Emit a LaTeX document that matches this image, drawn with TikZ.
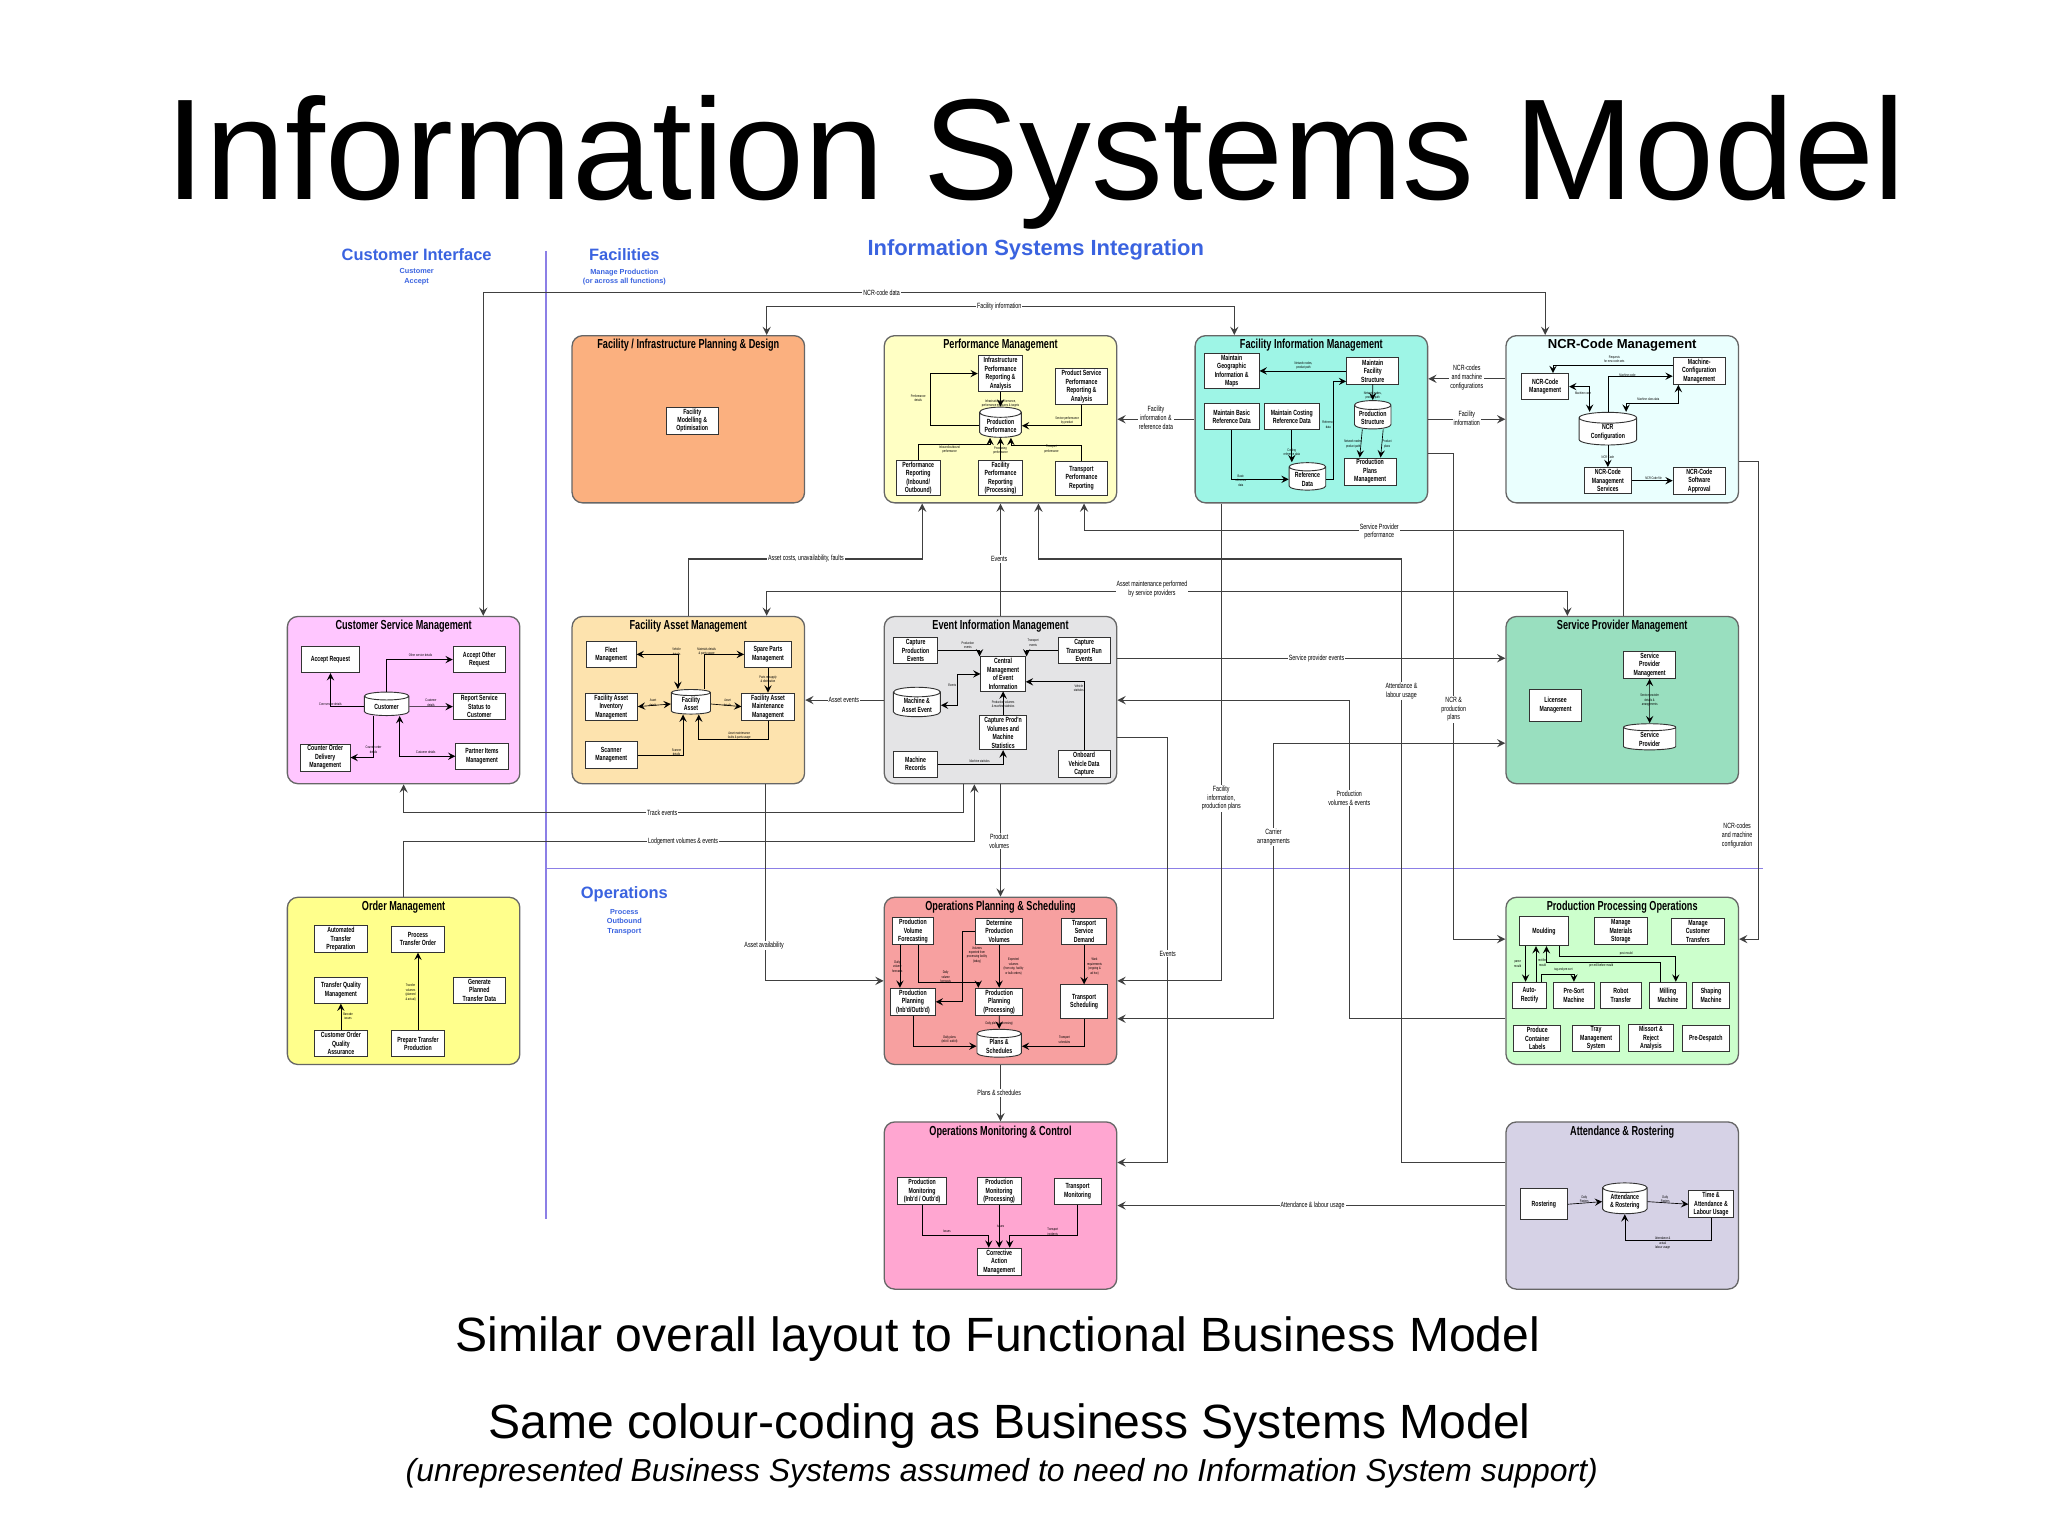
\documentclass[tikz,border=0pt]{standalone}
\usepackage{fontspec}
\setmainfont{Liberation Sans}
\newfontfamily\narrowfont{Liberation Sans}[FakeStretch=0.7]
\usepackage{tikz}
\usetikzlibrary{shapes.geometric, arrows}
\definecolor{cfpd}{HTML}{FBB07F}
\definecolor{cpm}{HTML}{FFFFC4}
\definecolor{cfim}{HTML}{9EF5E6}
\definecolor{cncr}{HTML}{EAFFFE}
\definecolor{ccsm}{HTML}{FFC6FF}
\definecolor{cfam}{HTML}{FDE3AE}
\definecolor{ceim}{HTML}{E4E4E6}
\definecolor{cspm}{HTML}{99DFBF}
\definecolor{com}{HTML}{FFFF8C}
\definecolor{cops}{HTML}{F7A0A0}
\definecolor{cppo}{HTML}{CCFFCC}
\definecolor{comc}{HTML}{FFA6D1}
\definecolor{car}{HTML}{D6D2E6}
\definecolor{hblue}{HTML}{3A63E0}
\definecolor{divider}{HTML}{8C7FE6}
\newcommand{\subfont}{\narrowfont\bfseries\fontsize{2.85}{3.25}\selectfont}
\newcommand{\tinyfont}{\narrowfont\fontsize{1.4}{1.7}\selectfont}
\tikzstyle{area} = [rectangle, rounded corners=4pt, minimum width=89pt, minimum height=64pt, draw=black!60, line width=0.5pt]
\tikzstyle{areatitle} = [font=\narrowfont\bfseries\fontsize{5}{6}\selectfont, anchor=north, inner sep=1.5pt]
\tikzstyle{sub} = [rectangle, draw=black!80, fill=white, line width=0.35pt, align=center, font=\subfont, inner sep=0.6pt, minimum height=10pt, minimum width=19pt]
\tikzstyle{store} = [cylinder, shape border rotate=90, aspect=0.3, draw=black!80, fill=white, line width=0.35pt, align=center, font=\subfont, inner sep=0.4pt, minimum width=16pt, minimum height=9pt]
\tikzstyle{arrow} = [line width=0.25pt, ->, >=stealth]
\tikzstyle{link} = [line width=0.4pt, ->, >=stealth, black!75]
\tikzstyle{tl} = [font=\tinyfont, align=center, inner sep=0.2pt]
\tikzstyle{cl} = [font=\narrowfont\fontsize{2.9}{3.4}\selectfont, align=center, fill=white, inner sep=0.4pt]
\tikzstyle{head} = [font=\bfseries\fontsize{6.3}{7}\selectfont, text=hblue]
\tikzstyle{headsub} = [font=\bfseries\fontsize{2.8}{3.6}\selectfont, text=hblue, align=center]
\begin{document}
\begin{tikzpicture}[x=0.5pt, y=-0.5pt]
        \useasboundingbox[fill=white] (0,0) rectangle (1568,1176);
        % headings
        \node (title) at (793,124) {\fontsize{55}{62}\selectfont Information Systems Model};
        \node (hci) [head] at (319,195) {Customer Interface};
        \node (hcis) [headsub] at (319,212) {Customer\\Accept};
        \node (hfac) [head] at (478,195) {Facilities};
        \node (hfacs) [headsub] at (478,212) {Manage Production\\(or across all functions)};
        \node (hisi) [head, font=\bfseries\fontsize{8.4}{9}\selectfont] at (793,191) {Information Systems Integration};
        \node (hops) [head] at (478,685) {Operations};
        \node (hopss) [headsub] at (478,706) {Process\\Outbound\\Transport};
        \draw [divider, line width=0.5pt] (418,192) -- (418,933);
        \draw [divider, line width=0.5pt] (418,665) -- (1350,665);
        \node (note1) at (764,1025) {\fontsize{18.4}{21}\selectfont Similar overall layout to Functional Business Model};
        \node (note2) at (773,1092) {\fontsize{18.4}{21}\selectfont Same colour-coding as Business Systems Model};
        \node (note3) at (767,1128) {\fontsize{12.2}{14}\selectfont\itshape (unrepresented Business Systems assumed to need no Information System support)};

        % areas
        \node (fpd) [area, fill=cfpd] at (527,321) {};
        \node (pm) [area, fill=cpm] at (766,321) {};
        \node (fim) [area, fill=cfim] at (1004,321) {};
        \node (ncr) [area, fill=cncr] at (1242,321) {};
        \node (csm) [area, fill=ccsm] at (309,536) {};
        \node (fam) [area, fill=cfam] at (527,536) {};
        \node (eim) [area, fill=ceim] at (766,536) {};
        \node (spm) [area, fill=cspm] at (1242,536) {};
        \node (om) [area, fill=com] at (309,751) {};
        \node (ops) [area, fill=cops] at (766,751) {};
        \node (ppo) [area, fill=cppo] at (1242,751) {};
        \node (omc) [area, fill=comc] at (766,923) {};
        \node (ar) [area, fill=car] at (1242,923) {};
        \node [areatitle] at (fpd.north) {Facility / Infrastructure Planning \& Design};
        \node [areatitle] at (pm.north) {Performance Management};
        \node [areatitle] at (fim.north) {Facility Information Management};
        \node [areatitle, font=\bfseries\fontsize{5}{6}\selectfont] at (ncr.north) {NCR-Code Management};
        \node [areatitle] at (csm.north) {Customer Service Management};
        \node [areatitle] at (fam.north) {Facility Asset Management};
        \node [areatitle] at (eim.north) {Event Information Management};
        \node [areatitle] at (spm.north) {Service Provider Management};
        \node [areatitle] at (om.north) {Order Management};
        \node [areatitle] at (ops.north) {Operations Planning \& Scheduling};
        \node [areatitle] at (ppo.north) {Production Processing Operations};
        \node [areatitle] at (omc.north) {Operations Monitoring \& Control};
        \node [areatitle] at (ar.north) {Attendance \& Rostering};

        % facility planning
        \node (fmo) [sub, minimum width=20pt] at (530,322) {Facility\\Modelling \&\\Optimisation};
        % performance management
        \node (ipr) [sub, minimum width=17pt] at (766,286) {Infrastructure\\Performance\\Reporting \&\\Analysis};
        \node (pspr) [sub, minimum width=20pt] at (828,296) {Product Service\\Performance\\Reporting \&\\Analysis};
        \node (pp) [store] at (766,326) {Production\\Performance};
        \node (pr) [sub, minimum width=17pt] at (703,366) {Performance\\Reporting\\(Inbound/\\Outbound)};
        \node (fpr) [sub, minimum width=17pt] at (766,366) {Facility\\Performance\\Reporting\\(Processing)};
        \node (tpr) [sub, minimum width=20pt, minimum height=13pt] at (828,366) {Transport\\Performance\\Reporting};
        \draw [arrow] (pr.north) -- ++(0,-12) -| ([xshift=-4pt]pp.south);
        \draw [arrow] (fpr.north) -- (pp.south);
        \draw [arrow] (tpr.north) -- ++(0,-12) -| ([xshift=4pt]pp.south);
        \draw [arrow] (ipr.south) -- (pp.north);
        \draw [arrow] (pp.west) -| (712,300) |- (ipr.west);
        \draw [arrow] (pspr.south) |- (pp.east);
        \node [tl] at (703,305) {Performance\\details};
        \node [tl] at (766,309) {Infrastructure performance,\\performance measures \& targets};
        \node [tl] at (817,322) {Service performance\\by product};
        \node [tl] at (727,344) {Inbound/outbound\\performance};
        \node [tl] at (766,345) {Processing\\performance};
        \node [tl] at (805,344) {Transport\\performance};
        % facility information management
        \node (mgi) [sub, minimum width=21pt] at (943,284) {Maintain\\Geographic\\Information \&\\Maps};
        \node (mfs) [sub, minimum width=20pt] at (1051,284) {Maintain\\Facility\\Structure};
        \node (mbr) [sub, minimum width=21pt] at (943,319) {Maintain Basic\\Reference Data};
        \node (mcr) [sub, minimum width=21pt] at (989,319) {Maintain Costing\\Reference Data};
        \node (ps) [store, minimum width=14pt] at (1051,320) {Production\\Structure};
        \node (rd) [store, minimum width=14pt] at (1001,367) {Reference\\Data};
        \node (ppm) [sub, minimum width=20pt] at (1049,361) {Production\\Plans\\Management};
        \draw [arrow] (mfs.west) -- (mgi.east);
        \draw [arrow] (mfs.south) -- (ps.north);
        \draw [arrow] ([xshift=-4pt]ps.south) -- ([xshift=-4pt]ppm.north);
        \draw [arrow] ([xshift=4pt]ps.south) -- ([xshift=4pt]ppm.north);
        \draw [arrow] (mbr.south) |- (rd.west);
        \draw [arrow] (mcr.south) -- (mcr.south |- rd.north);
        \draw [arrow] (rd.east) -| (1021,300) |- ([yshift=-4pt]mfs.west);
        \node [tl] at (998,280) {Network nodes,\\product path};
        \node [tl] at (1051,303) {Network nodes,\\product path};
        \node [tl] at (1036,340) {Network nodes,\\product path};
        \node [tl] at (1062,340) {Product\\plans};
        \node [tl] at (950,368) {Basic\\reference\\data};
        \node [tl] at (989,346) {Costing\\reference data};
        \node [tl] at (1017,325) {Reference\\data};
        % ncr-code management
        \node (ncm) [sub, minimum width=18pt] at (1183,296) {NCR-Code\\Management};
        \node (mcm) [sub, minimum width=20pt] at (1301,284) {Machine-\\Configuration\\Management};
        \node (nc) [store, minimum width=22pt, minimum height=11pt] at (1231,331) {NCR\\Configuration};
        \node (nms) [sub, minimum width=18pt] at (1231,368) {NCR-Code\\Management\\Services};
        \node (nsa) [sub, minimum width=20pt] at (1301,368) {NCR-Code\\Software\\Approval};
        \draw [arrow] ([yshift=2pt]mcm.west) -| ([xshift=3pt]ncm.north);
        \draw [arrow] (nc.north) |- ([yshift=-2pt]mcm.west);
        \draw [arrow, <->] ([xshift=-7pt]nc.north) |- (ncm.east);
        \draw [arrow, <->] ([xshift=7pt]nc.north) |- (1265,309) -| ([xshift=-8pt]mcm.south);
        \draw [arrow] (nc.south) -- (nms.north);
        \draw [arrow] (nms.east) -- (nsa.west);
        \node [tl] at (1236,275) {Requests\\for new code-sets};
        \node [tl] at (1246,287) {Machine-code};
        \node [tl] at (1212,301) {Machine-code};
        \node [tl] at (1262,306) {Machine class data};
        \node [tl] at (1231,350) {NCR Code};
        \node [tl] at (1266,366) {NCR Code file};
        % customer service management
        \node (creq) [sub, minimum width=22pt] at (253,505) {Accept Request};
        \node (aor) [sub, minimum width=20pt] at (367,505) {Accept Other\\Request};
        \node (cust) [store, minimum width=17pt] at (296,541) {Customer};
        \node (rss) [sub, minimum width=20pt] at (367,541) {Report Service\\Status to\\Customer};
        \node (codm) [sub, minimum width=19pt] at (249,580) {Counter Order\\Delivery\\Management};
        \node (pim) [sub, minimum width=20pt] at (369,579) {Partner Items\\Management};
        \draw [arrow] (cust.west) -| (creq.south);
        \draw [arrow] (cust.north) |- (aor.west);
        \draw [arrow] (cust.east) -- (rss.west);
        \draw [arrow] ([xshift=-5pt]cust.south) |- (codm.east);
        \draw [arrow, <->] (pim.west) -| ([xshift=5pt]cust.south);
        \node [tl] at (253,539) {Core service details};
        \node [tl] at (322,502) {Other service details};
        \node [tl] at (330,538) {Customer\\details};
        \node [tl] at (286,574) {Counter order\\details};
        \node [tl] at (326,576) {Customer details};
        % facility asset management
        \node (fleet) [sub, minimum width=19pt] at (468,501) {Fleet\\Management};
        \node (spare) [sub, minimum width=18pt] at (588,501) {Spare Parts\\Management};
        \node (fai) [sub, minimum width=20pt] at (468,541) {Facility Asset\\Inventory\\Management};
        \node (fa) [store, minimum width=15pt] at (529,539) {Facility\\Asset};
        \node (fmm) [sub, minimum width=20pt] at (588,541) {Facility Asset\\Maintenance\\Management};
        \node (scan) [sub, minimum width=20pt] at (468,578) {Scanner\\Management};
        \draw [arrow, <->] (fleet.east) -| ([xshift=-5pt]fa.north);
        \draw [arrow] ([xshift=5pt]fa.north) |- (spare.west);
        \draw [arrow, <->] (fai.east) -- (fa.west);
        \draw [arrow] (fa.east) -- (fmm.west);
        \draw [arrow] (spare.south) -- (fmm.north);
        \draw [arrow] (fmm.south) |- (545,566) -| ([xshift=3pt]fa.south);
        \draw [arrow] (scan.east) -| ([xshift=-3pt]fa.south);
        \node [tl] at (518,499) {Vehicle\\details};
        \node [tl] at (541,499) {Materials details\\\& parts usage};
        \node [tl] at (500,538) {Asset\\details};
        \node [tl] at (557,538) {Asset\\details};
        \node [tl] at (588,520) {Parts re-supply\\\& distribution};
        \node [tl] at (566,563) {Asset maintenance\\faults \& parts usage};
        \node [tl] at (518,576) {Scanner\\details};
        % event information management
        \node (cpe) [sub, minimum width=17pt] at (701,498) {Capture\\Production\\Events};
        \node (ctr) [sub, minimum width=20pt] at (830,498) {Capture\\Transport Run\\Events};
        \node (cme) [sub, minimum width=17pt] at (768,516) {Central\\Management\\of Event\\Information};
        \node (mae) [store, minimum width=18pt, minimum height=8pt] at (702,540) {Machine \&\\Asset Event};
        \node (cpv) [sub, minimum width=18pt] at (768,561) {Capture Prod'n\\Volumes and\\Machine\\Statistics};
        \node (mr) [sub, minimum width=17pt] at (701,585) {Machine\\Records};
        \node (ovd) [sub, minimum width=20pt] at (830,585) {Onboard\\Vehicle Data\\Capture};
        \draw [arrow] (cpe.east) -| ([xshift=-9pt]cme.north);
        \draw [arrow] (ctr.west) -| ([xshift=9pt]cme.north);
        \draw [arrow, <->] (mae.east) -| (733,525) |- (cme.west);
        \draw [arrow] (cpv.north) -- (cme.south);
        \draw [arrow] (mr.east) -| (cpv.south);
        \draw [arrow] (ovd.north) |- ([yshift=-3pt]cme.east);
        \node [tl] at (741,494) {Production\\events};
        \node [tl] at (791,492) {Transport\\events};
        \node [tl] at (729,525) {Events};
        \node [tl] at (768,539) {Production volumes\\\& machine statistics};
        \node [tl] at (750,583) {Machine statistics};
        \node [tl] at (826,527) {Vehicle\\statistics};
        % service provider management
        \node (spmg) [sub, minimum width=20pt] at (1263,509) {Service\\Provider\\Management};
        \node (lic) [sub, minimum width=20pt, minimum height=12pt] at (1191,540) {Licensee\\Management};
        \node (sp) [store, minimum width=20pt, minimum height=10pt] at (1263,566) {Service\\Provider};
        \draw [arrow, <->] (spmg.south) -- (sp.north);
        \node [tl] at (1263,536) {Service provider\\details \&\\arrangements};
        % order management
        \node (atp) [sub, minimum width=20pt] at (261,719) {Automated\\Transfer\\Preparation};
        \node (pto) [sub, minimum width=20pt] at (320,719) {Process\\Transfer Order};
        \node (tqm) [sub, minimum width=20pt] at (261,758) {Transfer Quality\\Management};
        \node (gpt) [sub, minimum width=20pt] at (367,758) {Generate\\Planned\\Transfer Data};
        \node (coqa) [sub, minimum width=20pt] at (261,799) {Customer Order\\Quality\\Assurance};
        \node (ptp) [sub, minimum width=20pt] at (320,799) {Prepare Transfer\\Production};
        \draw [arrow] (ptp.north) -- (pto.south);
        \draw [arrow] (coqa.north) -- (tqm.south);
        \node [tl, anchor=east] at (319,760) {Transfer\\volumes\\(planned\\\& actual)};
        \node [tl, anchor=west] at (262,778) {Barcode\\issues};
        % operations planning and scheduling
        \node (pvf) [sub, minimum width=16pt] at (699,713) {Production\\Volume\\Forecasting};
        \node (dpv) [sub, minimum width=18pt] at (765,713) {Determine\\Production\\Volumes};
        \node (tsd) [sub, minimum width=17pt] at (830,713) {Transport\\Service\\Demand};
        \node (ppio) [sub, minimum width=17pt] at (699,767) {Production\\Planning\\(Inb'd/Outb'd)};
        \node (ppp) [sub, minimum width=18pt] at (765,767) {Production\\Planning\\(Processing)};
        \node (ts) [sub, minimum width=18pt, minimum height=13pt] at (830,767) {Transport\\Scheduling};
        \node (psch) [store, minimum width=17pt] at (765,801) {Plans \&\\Schedules};
        \draw [arrow] ([xshift=-5pt]pvf.south) -- ([xshift=-5pt]ppio.north);
        \draw [arrow] ([xshift=2pt]pvf.south) |- (745,752) -| ([xshift=-8pt]ppp.north);
        \draw [arrow] (dpv.west) -| (737,740) |- (ppio.east);
        \draw [arrow] (dpv.south) -- (ppp.north);
        \draw [arrow] (tsd.south) -- (ts.north);
        \draw [arrow] (ppio.south) |- (psch.west);
        \draw [arrow] (ppp.south) -- (psch.north);
        \draw [arrow] (ts.south) |- (psch.east);
        \node [tl] at (687,740) {Daily\\volume\\forecasts};
        \node [tl] at (724,748) {Daily\\volume\\forecasts};
        \node [tl] at (748,731) {Volumes\\expected from\\processing facility\\(today)};
        \node [tl] at (776,740) {Expected\\volumes\\(from orig. facility\\or bulk orders)};
        \node [tl] at (838,740) {Work\\requirements\\(ongoing \&\\ad hoc)};
        \node [tl] at (727,796) {Daily plans\\(inb'd / outb'd)};
        \node [tl] at (765,784) {Daily plans (processing)};
        \node [tl] at (815,796) {Transport\\schedules};
        % production processing operations
        \node (mould) [sub, minimum width=19pt, minimum height=11pt] at (1182,713) {Moulding};
        \node (mms) [sub, minimum width=20pt] at (1241,713) {Manage\\Materials\\Storage};
        \node (mct) [sub, minimum width=20pt] at (1300,713) {Manage\\Customer\\Transfers};
        \node (arec) [sub, minimum width=13pt] at (1171,762) {Auto-\\Rectify};
        \node (psm) [sub, minimum width=16pt] at (1205,762) {Pre-Sort\\Machine};
        \node (rob) [sub, minimum width=16pt] at (1241,762) {Robot\\Transfer};
        \node (mill) [sub, minimum width=14pt] at (1277,762) {Milling\\Machine};
        \node (shp) [sub, minimum width=14pt] at (1310,762) {Shaping\\Machine};
        \node (pcl) [sub, minimum width=18pt] at (1177,795) {Produce\\Container\\Labels};
        \node (tms) [sub, minimum width=18pt] at (1222,795) {Tray\\Management\\System};
        \node (mra) [sub, minimum width=17pt] at (1264,795) {Missort \&\\Reject\\Analysis};
        \node (pde) [sub, minimum width=18pt] at (1306,795) {Pre-Despatch};
        \draw [arrow] ([xshift=-7pt]mould.south) -- ([xshift=-1.5pt]arec.north);
        \draw [arrow] ([xshift=2.5pt]arec.north) -- ([xshift=-3pt]mould.south);
        \draw [arrow] ([xshift=4.5pt]arec.north) -- ++(0,-6) -| (psm.north);
        \draw [arrow] ([xshift=6pt]mould.south) |- (1240,732) -| ([xshift=3pt]mill.north);
        \draw [arrow] ([xshift=-3pt]mill.north) |- (1230,737) -| ([xshift=1pt]mould.south);
        \node [tl] at (1162,738) {parse\\mould};
        \node [tl] at (1181,737) {rectified\\mould};
        \node [tl] at (1197,742) {tag and pre-sort};
        \node [tl] at (1245,730) {post-mould};
        \node [tl] at (1226,739.5) {pre-mill before mould};
        % operations monitoring and control
        \node (pmio) [sub, minimum width=19pt] at (706,912) {Production\\Monitoring\\(Inb'd / Outb'd)};
        \node (pmp) [sub, minimum width=17pt] at (765,912) {Production\\Monitoring\\(Processing)};
        \node (tm) [sub, minimum width=18pt] at (825,912) {Transport\\Monitoring};
        \node (cam) [sub, minimum width=17pt] at (765,966) {Corrective\\Action\\Management};
        \draw [arrow] (pmio.south) |- (740,946) -| ([xshift=-4pt]cam.north);
        \draw [arrow] (pmp.south) -- (cam.north);
        \draw [arrow] (tm.south) |- (790,946) -| ([xshift=4pt]cam.north);
        \node [tl] at (725,943) {Issues};
        \node [tl] at (766,939) {Issues};
        \node [tl] at (806,943) {Transport\\incidents};
        % attendance and rostering
        \node (rost) [sub, minimum width=18pt, minimum height=12pt] at (1182,922) {Rostering};
        \node (atr) [store, minimum width=17pt] at (1244,920) {Attendance\\\& Rostering};
        \node (tal) [sub, minimum width=17pt] at (1310,922) {Time \&\\Attendance \&\\Labour Usage};
        \draw [arrow] (rost.east) -- (atr.west);
        \draw [arrow] (atr.east) -- (tal.west);
        \draw [arrow] (tal.south) |- (1262,950) -| (atr.south);
        \node [tl] at (1213,918) {Daily\\Rosters};
        \node [tl] at (1275,918) {Daily\\Rosters};
        \node [tl] at (1273,952) {Attendance \&\\actual\\labour usage};

        % links between areas
        \draw [link, <->] ([xshift=30.5pt]csm.north) |- (700,224) -| ([xshift=-29.5pt]ncr.north);
        \draw [link, <->] ([xshift=30pt]fpd.north) |- (765,235) -| ([xshift=-29.5pt]fim.north);
        \draw [link] ([yshift=15.5pt]ncr.west) -- ([yshift=15.5pt]fim.east);
        \draw [link] (fim.east) -- (ncr.west);
        \draw [link] (fim.west) -- (pm.east);
        \draw [link] (fam.north) |- (617,428) -| ([xshift=-30pt]pm.south);
        \draw [link] (eim.north) -- (pm.south);
        \draw [link] ([xshift=0.5pt]spm.north) |- (1056,406) -| ([xshift=32pt]pm.south);
        \draw [link, <->] ([xshift=30pt]fam.north) |- (882,453) -| ([xshift=-21pt]spm.north);
        \draw [link] ([yshift=16.5pt]ar.west) -| (1073,428) -| ([xshift=14.5pt]pm.south);
        \draw [link] ([yshift=16pt]eim.east) -- ([yshift=16pt]spm.west);
        \draw [link] ([yshift=-14.5pt]ppo.west) -| (1033,536) -- (eim.east);
        \draw [link] ([yshift=-14.5pt]eim.east) -| (894,800) |- ([yshift=16.5pt]omc.east);
        \draw [link] ([xshift=-34.5pt]fim.south) |- (ops.east);
        \draw [link, <->] ([yshift=-16.5pt]spm.west) -| (975,700) |- ([yshift=-14.5pt]ops.east);
        \draw [link] ([yshift=-13pt]fim.east) -| (1113,600) |- ([yshift=16pt]ppo.west);
        \draw [link] ([yshift=-16pt]ncr.east) -| (1346,600) |- ([yshift=16pt]ppo.east);
        \draw [link] (ar.west) -- (omc.east);
        \draw [link] (ops.south) -- (omc.north);
        \draw [link] (eim.south) -- (ops.north);
        \draw [link] ([xshift=-14pt]eim.south) |- (507,622) -| (csm.south);
        \draw [link] (om.north) |- (523,644) -| ([xshift=-10pt]eim.south);
        \draw [link] ([xshift=29.5pt]fam.south) |- (ops.west);
        \draw [link] (eim.west) -- (fam.east);
        \node [cl] at (675,224) {NCR-code data};
        \node [cl] at (765,235) {Facility information};
        \node [cl] at (1123,289) {NCR-codes\\and machine\\configurations};
        \node [cl] at (1123,320) {Facility\\information};
        \node [cl] at (885,320) {Facility\\information \&\\reference data};
        \node [cl] at (617,428) {Asset costs, unavailability, faults};
        \node [cl] at (765,428) {Events};
        \node [cl] at (1056,407) {Service Provider\\performance};
        \node [cl] at (882,451) {Asset maintenance performed\\by service providers};
        \node [cl] at (1073,529) {Attendance \&\\labour usage};
        \node [cl] at (1008,504) {Service provider events};
        \node [cl] at (1033,611) {Production\\volumes \& events};
        \node [cl] at (894,730) {Events};
        \node [cl] at (935,611) {Facility\\information,\\production plans};
        \node [cl] at (975,641) {Carrier\\arrangements};
        \node [cl] at (1113,543) {NCR \&\\production\\plans};
        \node [cl] at (1330,640) {NCR-codes\\and machine\\configuration};
        \node [cl] at (1005,923) {Attendance \& labour usage};
        \node [cl] at (765,837) {Plans \& schedules};
        \node [cl] at (765,644) {Product\\volumes};
        \node [cl] at (507,622) {Track events};
        \node [cl] at (523,644) {Lodgement volumes \& events};
        \node [cl] at (585,724) {Asset availability};
        \node [cl] at (646,536) {Asset events};
\end{tikzpicture}
\end{document}
